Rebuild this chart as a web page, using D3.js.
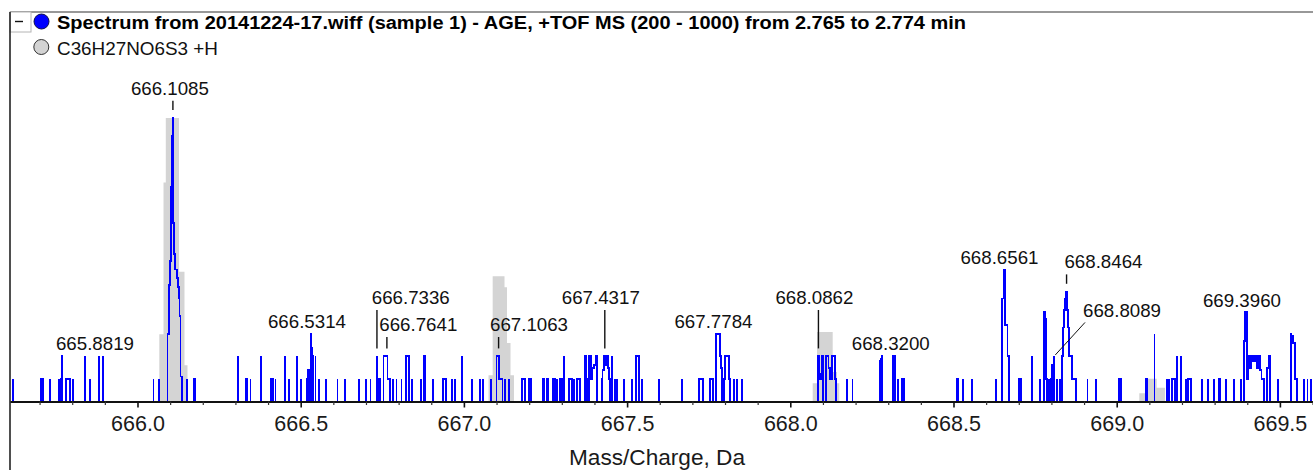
<!DOCTYPE html>
<html>
<head>
<meta charset="utf-8">
<script src="https://cdn.jsdelivr.net/npm/d3@7"></script>
<style>
  html, body { margin: 0; padding: 0; background: #fff; }
  svg { display: block; font-family: "Liberation Sans", Arial, sans-serif; }
</style>
</head>
<body>
<svg id="chart" width="1313" height="470"></svg>
<script>
// ---- Measured spectrum (profile points: m/z, counts) ----
const spectrumMz = [
  665.6177, 665.7044, 665.7074, 665.7114, 665.7319, 665.7586, 665.7647, 665.7696, 665.7800, 665.7831,
  665.7871, 665.7901, 665.7932, 665.8024, 665.8382, 665.8554, 665.8819, 665.8934, 666.0490, 666.0659,
  666.0919, 666.0950, 666.0980, 666.1011, 666.1042, 666.1063, 666.1085, 666.1109, 666.1137, 666.1164,
  666.1192, 666.1219, 666.1247, 666.1275, 666.1302, 666.1333, 666.1363, 666.1507, 666.1731, 666.1771,
  666.3076, 666.3333, 666.3370, 666.3462, 666.3775, 666.4099, 666.4148, 666.4228, 666.4525, 666.4635,
  666.4896, 666.5018, 666.5202, 666.5254, 666.5314, 666.5340, 666.5368, 666.5453, 666.5567, 666.5766,
  666.6127, 666.6366, 666.6795, 666.7001, 666.7138, 666.7336, 666.7396, 666.7445, 666.7537, 666.7573,
  666.7610, 666.7641, 666.7675, 666.7711, 666.7748, 666.7819, 666.7935, 666.8088, 666.8235, 666.8272,
  666.8309, 666.8401, 666.8686, 666.8771, 666.8824, 666.9044, 666.9369, 666.9406, 666.9442, 666.9635,
  666.9736, 666.9951, 667.0257, 667.0493, 667.0594, 667.0821, 667.0999, 667.1032, 667.1063, 667.1097,
  667.1130, 667.1183, 667.1259, 667.1382, 667.1789, 667.1826, 667.1863, 667.2004, 667.2056, 667.2414,
  667.2463, 667.2537, 667.2586, 667.2739, 667.2791, 667.2861, 667.2944, 667.2996, 667.3076, 667.3229,
  667.3272, 667.3321, 667.3382, 667.3456, 667.3505, 667.3557, 667.3710, 667.3762, 667.3833, 667.3869,
  667.3915, 667.3964, 667.4016, 667.4069, 667.4222, 667.4271, 667.4317, 667.4363, 667.4396, 667.4430,
  667.4467, 667.4537, 667.4638, 667.4700, 667.4914, 667.5159, 667.5273, 667.5312, 667.5355, 667.5447,
  667.5986, 667.6691, 667.7212, 667.7255, 667.7295, 667.7334, 667.7540, 667.7592, 667.7641, 667.7711,
  667.7748, 667.7784, 667.7822, 667.7855, 667.7898, 667.7978, 667.8021, 667.8070, 667.8113, 667.8152,
  667.8275, 667.8358, 667.8529, 668.0862, 668.0916, 668.0947, 668.0980, 668.1014, 668.1094, 668.1146,
  668.1195, 668.1247, 668.1299, 668.1348, 668.1391, 668.1737, 668.1906, 668.2748, 668.2785, 668.2822,
  668.3134, 668.3168, 668.3200, 668.3309, 668.3413, 668.3450, 668.3486, 668.5098, 668.5141, 668.5282,
  668.5557, 668.6302, 668.6483, 668.6519, 668.6561, 668.6599, 668.6636, 668.6673, 668.6709, 668.6997,
  668.7034, 668.7071, 668.7396, 668.7650, 668.7772, 668.7812, 668.7855, 668.7916, 668.7984, 668.8027,
  668.8089, 668.8162, 668.8263, 668.8324, 668.8364, 668.8400, 668.8434, 668.8464, 668.8499, 668.8532,
  668.8566, 668.8600, 668.8639, 668.8676, 668.8713, 668.8753, 668.9105, 668.9366, 669.0076, 669.0125,
  669.0882, 669.0928, 669.1158, 669.1532, 669.1602, 669.1694, 669.1740, 669.1786, 669.1847, 669.1970,
  669.2123, 669.2184, 669.2227, 669.2276, 669.2604, 669.2797, 669.2981, 669.3119, 669.3165, 669.3339,
  669.3584, 669.3808, 669.3909, 669.3960, 669.4004, 669.4053, 669.4105, 669.4154, 669.4206, 669.4258,
  669.4307, 669.4359, 669.4411, 669.4461, 669.4513, 669.4595, 669.4644, 669.4696, 669.4951, 669.5331,
  669.5380, 669.5432, 669.5484, 669.5524, 669.5738, 669.5845, 669.5953
];
const spectrumCounts = [
  1, 1, 1, 1, 1, 1, 1, 2, 1, 1,
  1, 1, 1, 1, 2, 1, 2, 2, 1, 1,
  3.0, 3.0, 5.2, 6.3, 9.6, 11.9, 12.7, 8.0, 6.6, 5.9,
  5.9, 5.5, 5.1, 4.6, 3.8, 1.1, 1.1, 1, 1, 1,
  2, 1, 1, 1, 2, 1, 1, 1, 2, 1,
  2, 1, 1, 1.4, 3.0, 2.4, 2.0, 2, 1, 1,
  1, 1, 1, 1, 1, 2, 1, 1, 2, 2,
  2, 2, 1, 1, 1, 1, 1, 1, 2, 2,
  2, 1, 1, 2, 1, 1, 1, 1, 1, 1,
  1, 2, 1, 1, 1, 1, 2, 2, 2, 1,
  1, 1, 1, 1, 1, 1, 1, 1, 1, 1,
  1, 1, 1, 1, 1, 1, 1, 1, 2, 1,
  1, 1, 1, 1, 1, 1, 2, 1, 2, 2,
  1, 1.5, 1.6, 2, 1, 1.4, 2, 1.6, 2, 1.5,
  1, 2, 1, 1, 1, 1, 2, 2, 2, 1,
  1, 1, 1, 1, 1, 1, 1, 1, 1, 3,
  3, 3, 3, 2, 1.5, 1, 2, 2, 2, 1,
  1, 1, 1, 2, 1, 1.2, 2, 1.9, 2, 2,
  1.5, 1, 2, 2, 1, 1, 1, 1.8, 1.9, 2,
  2, 1.9, 2, 1, 1, 1, 1, 1, 1, 1,
  1, 1, 4.6, 4.6, 5.9, 3.4, 3.4, 2, 1, 1,
  1, 1, 2, 1, 4.0, 3.7, 1, 1, 1, 1.6,
  2, 1, 1, 2, 3.3, 4.1, 4.6, 4.9, 4.1, 3.3,
  2, 2, 1, 1, 1, 1, 1, 1, 1, 1,
  1, 1, 3, 1, 1, 1, 1, 1, 2, 2,
  1, 1, 1, 1, 1, 1, 1, 1, 1, 1,
  1, 1, 2.7, 4.0, 1, 2, 1.5, 2, 1.8, 2,
  1.5, 2, 1.4, 1, 1, 1.5, 1.5, 2, 1, 3,
  2.9, 2.6, 1, 1, 1, 1, 1
];

// ---- Theoretical isotope pattern of C36H27NO6S3 +H (step edges in m/z, step heights) ----
const isotopeEdges = [
  [666.0668, 666.0797, 666.0867, 666.1271, 666.1440, 666.1532],
  [667.0754, 667.0882, 667.1244, 667.1320, 667.1428, 667.1535],
  [668.0686, 668.0818, 668.1299, 668.1431, 668.1501],
  [669.0692, 669.0867, 669.1225, 669.1479]
];
const isotopeHeights = [
  [3.0, 9.8, 12.7, 5.8, 1.6],
  [1.15, 5.6, 5.1, 2.6, 1.15],
  [0.8, 3.1, 1.3, 0.8],
  [0.35, 1.0, 0.6]
];

// ---- Annotated peaks and axis ticks ----
const peakLabels = [665.8819, 666.1085, 666.5314, 666.7336, 666.7641, 667.1063, 667.4317,
                    667.7784, 668.0862, 668.3200, 668.6561, 668.8089, 668.8464, 669.3960];
const majorTicks = [666.0, 666.5, 667.0, 667.5, 668.0, 668.5, 669.0, 669.5];

const titleText = "Spectrum from 20141224-17.wiff (sample 1) - AGE, +TOF MS (200 - 1000) from 2.765 to 2.774 min";
const legendText = "C36H27NO6S3 +H";
const xTitle = "Mass/Charge, Da";

// label placement: horizontal offset (centred or left-aligned) and lift above the peak top
const labelPlacement = {
  "665.8819": { dx: -4, lift: 6.4 },
  "666.1085": { dx: -3, lift: 23.3, tick: true },
  "666.5314": { dx: -4, lift: 5.8 },
  "666.7336": { start: -5.2, lift: 52.4, tick: true },
  "666.7641": { start: -7.6, lift: 25.4, tick: true },
  "667.1063": { start: -8.6, lift: 25.4, tick: true },
  "667.4317": { dx: -4, lift: 52.4, tick: true },
  "667.7784": { dx: -4.5, lift: 6 },
  "668.0862": { dx: -4, lift: 52.4, tick: true },
  "668.3200": { dx: -4, lift: 6.4 },
  "668.6561": { dx: -5, lift: 5.4 },
  "668.8089": { start: 28.7, lift: 39.7, leader: true },
  "668.8464": { start: -2.1, lift: 23.4, tick: true },
  "669.3960": { dx: -4, lift: 4.5 }
};

// ---- Layout ----
const W = 1313, H = 470;
const plotLeft = 10, plotRight = 1313, baseY = 401, topY = 60;

const svg = d3.select("#chart");

const x = d3.scaleLinear().domain([665.6094, 669.6014]).range([plotLeft, plotRight]);
const y = d3.scaleLinear().domain([0, 15.3]).range([baseY, topY]);

// frame
svg.append("line").attr("x1", plotLeft).attr("x2", W).attr("y1", 12).attr("y2", 12)
  .attr("stroke", "#333").attr("stroke-width", 1.2);
svg.append("rect").attr("x", plotLeft).attr("y", 12).attr("width", 21).attr("height", 20)
  .attr("fill", "#fff").attr("stroke", "#b4b4b4").attr("stroke-width", 1);
svg.append("line").attr("x1", 15).attr("x2", 23).attr("y1", 21.5).attr("y2", 21.5)
  .attr("stroke", "#111").attr("stroke-width", 1.4);
svg.append("line").attr("x1", plotLeft).attr("x2", plotLeft).attr("y1", 12).attr("y2", H)
  .attr("stroke", "#222").attr("stroke-width", 1.6);

// legend
svg.append("circle").attr("cx", 41.5).attr("cy", 21.5).attr("r", 7.5)
  .attr("fill", "#0000ff").attr("stroke", "#10104a").attr("stroke-width", 1);
svg.append("text").attr("x", 57).attr("y", 28.5).attr("font-size", 17.5).attr("font-weight", "bold")
  .attr("fill", "#000").attr("textLength", 909).attr("lengthAdjust", "spacingAndGlyphs").text(titleText);
svg.append("circle").attr("cx", 41.3).attr("cy", 47).attr("r", 7.5)
  .attr("fill", "#d3d3d3").attr("stroke", "#333").attr("stroke-width", 1);
svg.append("text").attr("x", 57).attr("y", 54.5).attr("font-size", 17.5)
  .attr("fill", "#111").attr("textLength", 161).attr("lengthAdjust", "spacingAndGlyphs").text(legendText);

// theoretical isotope envelope (grey steps)
const plot = svg.append("g");
isotopeEdges.forEach((edges, k) => {
  const h = isotopeHeights[k];
  const p = d3.path();
  p.moveTo(x(edges[0]), y(0));
  h.forEach((v, i) => {
    p.lineTo(x(edges[i]), y(v));
    p.lineTo(x(edges[i + 1]), y(v));
  });
  p.lineTo(x(edges[edges.length - 1]), y(0));
  p.closePath();
  plot.append("path").attr("d", p.toString()).attr("fill", "#d4d4d4").attr("stroke", "none");
});

// measured profile: neighbouring bins are joined with steps, isolated bins drop back to zero
const pts = spectrumMz.map((m, i) => ({ mz: m, v: spectrumCounts[i] }));
const joinGap = 0.0055;
const prof = d3.path();
pts.forEach((p, i) => {
  const prev = pts[i - 1], next = pts[i + 1];
  const px = x(p.mz);
  if (!prev || p.mz - prev.mz > joinGap) {
    prof.moveTo(px, y(0));
  } else {
    const xm = (x(prev.mz) + px) / 2;
    prof.lineTo(xm, y(prev.v));
    prof.lineTo(xm, y(p.v));
  }
  prof.lineTo(px, y(p.v));
  if (!next || next.mz - p.mz > joinGap) prof.lineTo(px, y(0));
});
plot.append("path").attr("d", prof.toString()).attr("fill", "none")
  .attr("stroke", "#0000ff").attr("stroke-width", 1.9).attr("stroke-linejoin", "miter")
  .attr("shape-rendering", "crispEdges");

// x axis
const axisG = svg.append("g").attr("transform", `translate(0,${baseY + 0.5})`);
axisG.call(d3.axisBottom(x).tickValues(majorTicks).tickFormat(d3.format(".1f"))
  .tickSize(6).tickSizeOuter(0).tickPadding(8.5));
axisG.select(".domain").attr("stroke", "#111").attr("stroke-width", 2);
axisG.selectAll(".tick line").attr("stroke", "#111").attr("stroke-width", 1.6);
axisG.selectAll(".tick text").attr("font-size", 21.5).attr("fill", "#1a1a1a")
  .attr("font-family", "'Liberation Sans', Arial, sans-serif");
const minorG = svg.append("g").attr("transform", `translate(0,${baseY + 0.5})`);
minorG.call(d3.axisBottom(x).tickValues(d3.range(6657, 6697).map(d => d / 10)
  .filter(d => !majorTicks.some(t => Math.abs(t - d) < 1e-6)))
  .tickFormat("").tickSize(3.5).tickSizeOuter(0));
minorG.select(".domain").remove();
minorG.selectAll(".tick line").attr("stroke", "#333").attr("stroke-width", 1.2);

svg.append("text").attr("x", 657).attr("y", 465).attr("text-anchor", "middle")
  .attr("font-size", 22).attr("fill", "#1a1a1a")
  .attr("textLength", 176).attr("lengthAdjust", "spacingAndGlyphs").text(xTitle);

// peak annotations
const labelG = svg.append("g");
peakLabels.forEach(mz => {
  const key = mz.toFixed(4);
  const cfg = labelPlacement[key];
  const idx = spectrumMz.findIndex(m => Math.abs(m - mz) < 1e-6);
  const v = spectrumCounts[idx];
  const px = x(mz), top = y(v);
  const baseline = top - cfg.lift;
  const t = labelG.append("text").attr("y", baseline).attr("font-size", 19).attr("fill", "#111")
    .attr("textLength", 78).attr("lengthAdjust", "spacingAndGlyphs").text(key);
  if (cfg.start !== undefined) t.attr("x", px + cfg.start).attr("text-anchor", "start");
  else t.attr("x", px + cfg.dx).attr("text-anchor", "middle");
  if (cfg.tick) {
    labelG.append("line").attr("x1", px).attr("x2", px)
      .attr("y1", baseline + 6).attr("y2", top - 8)
      .attr("stroke", "#111").attr("stroke-width", 1.4);
  }
  if (cfg.leader) {
    labelG.append("line").attr("x1", px + 1).attr("y1", top - 1.5)
      .attr("x2", px + 30.7).attr("y2", top - 34)
      .attr("stroke", "#111").attr("stroke-width", 1);
  }
});
</script>
</body>
</html>
